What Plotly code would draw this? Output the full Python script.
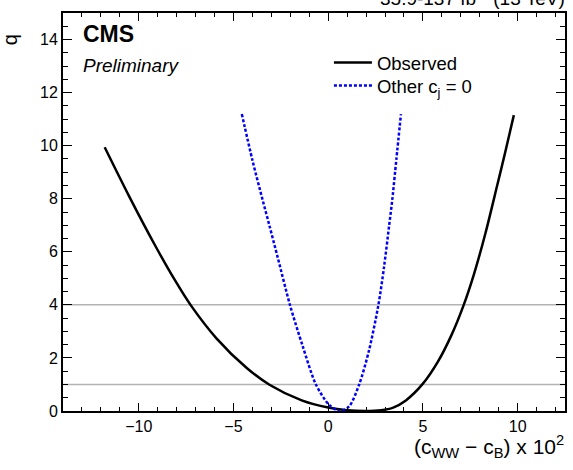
import plotly.graph_objects as go

# Observed scan
obs_x = [-11.8, -10.5, -9.1, -8.1, -7.25, -5.9, -4.3, -3.1, -1.4, 0.0, 1.0, 2.0,
         2.8, 3.4, 4.1, 5.0, 5.8, 6.5, 7.15, 7.7, 8.3, 8.9, 9.35, 9.8]
obs_q = [9.94, 8.08, 6.19, 4.94, 3.98, 2.74, 1.62, 0.99, 0.40, 0.13, 0.03, 0.0,
         0.03, 0.12, 0.40, 1.03, 1.87, 2.85, 3.99, 5.17, 6.70, 8.44, 9.77, 11.15]

# Other c_j = 0 scan
oth_x = [-4.56, -4.0, -3.46, -3.1, -2.67, -2.02, -1.35, -0.65, 0.05, 0.6, 1.1, 1.63,
         2.16, 2.65, 2.95, 3.21, 3.38, 3.6, 3.84]
oth_q = [11.19, 9.45, 7.95, 6.98, 5.8, 4.0, 2.45, 1.0, 0.23, 0.0, 0.17, 0.99,
         2.3, 4.0, 5.44, 6.95, 7.95, 9.5, 11.19]

ref_levels = [1, 4]
x_range = [-14, 12.5]
y_range = [0, 15]

FONT = "Liberation Sans, Arial, Helvetica, sans-serif"

fig = go.Figure()
fig.add_trace(go.Scatter(x=obs_x, y=obs_q, mode="lines", name="Observed", legend="legend",
                         line=dict(color="black", width=2.5, shape="spline", smoothing=0.8)))
fig.add_trace(go.Scatter(x=oth_x, y=oth_q, mode="lines", name="Other c<sub>j</sub> = 0", legend="legend2",
                         line=dict(color="#0000ff", width=2.5, dash="3px,2px", shape="spline", smoothing=0.8)))

for lv in ref_levels:
    fig.add_shape(type="line", xref="paper", x0=0, x1=1, yref="y", y0=lv, y1=lv,
                  line=dict(color="#b4b4b4", width=1.5), layer="below")

L, R, T, B = 63, 6, 13, 59
W, H = 573, 470
pw, ph = W - L - R, H - T - B

def px(x):
    return (x - L) / pw

def py(y):
    return (H - B - y) / ph

axis_common = dict(showgrid=False, zeroline=False, showline=True, linecolor="black",
                   linewidth=2, mirror="ticks", ticks="inside", tickcolor="black",
                   tickwidth=1.2, tickfont=dict(family=FONT, size=16, color="black"))

fig.update_xaxes(range=x_range, dtick=5, tick0=0, ticklen=8,
                 minor=dict(dtick=1, ticks="inside", ticklen=4, tickcolor="black", tickwidth=1.2),
                 **axis_common)
fig.update_yaxes(range=y_range, dtick=2, tick0=0, ticklen=9,
                 minor=dict(dtick=0.5, ticks="inside", ticklen=5, tickcolor="black", tickwidth=1.2),
                 **axis_common)

annotations = [
    dict(text="<b>CMS</b>", x=px(81), y=py(34), xanchor="left", yanchor="middle",
         font=dict(family=FONT, size=23, color="black")),
    dict(text="<i>Preliminary</i>", x=px(81), y=py(65), xanchor="left", yanchor="middle",
         font=dict(family=FONT, size=19, color="black")),
    dict(text="35.9-137 fb<sup>-1</sup> (13 TeV)", x=px(569), y=py(11), xanchor="right",
         yanchor="bottom", font=dict(family=FONT, size=19, color="black")),
    dict(text="q", x=px(10), y=py(40), xanchor="center", yanchor="middle", textangle=-90,
         font=dict(family=FONT, size=20, color="black")),
    dict(text="(c<sub>WW</sub> − c<sub>B</sub>) x 10<sup>2</sup>", x=px(568), y=py(446),
         xanchor="right", yanchor="middle", font=dict(family=FONT, size=21, color="black")),
]
for a in annotations:
    a.update(xref="paper", yref="paper", showarrow=False)

leg_common = dict(xanchor="left", yanchor="middle", bgcolor="rgba(0,0,0,0)",
                  font=dict(family=FONT, size=18.5, color="black"), itemwidth=38)

fig.update_layout(
    width=W, height=H,
    margin=dict(l=L, r=R, t=T, b=B),
    paper_bgcolor="white", plot_bgcolor="white",
    annotations=annotations,
    showlegend=True,
    legend=dict(x=px(330), y=py(63), **leg_common),
    legend2=dict(x=px(330), y=py(86), **leg_common),
)

fig.write_html("out.html", config={"displayModeBar": False},
               post_script="document.body.style.margin='0px';")
